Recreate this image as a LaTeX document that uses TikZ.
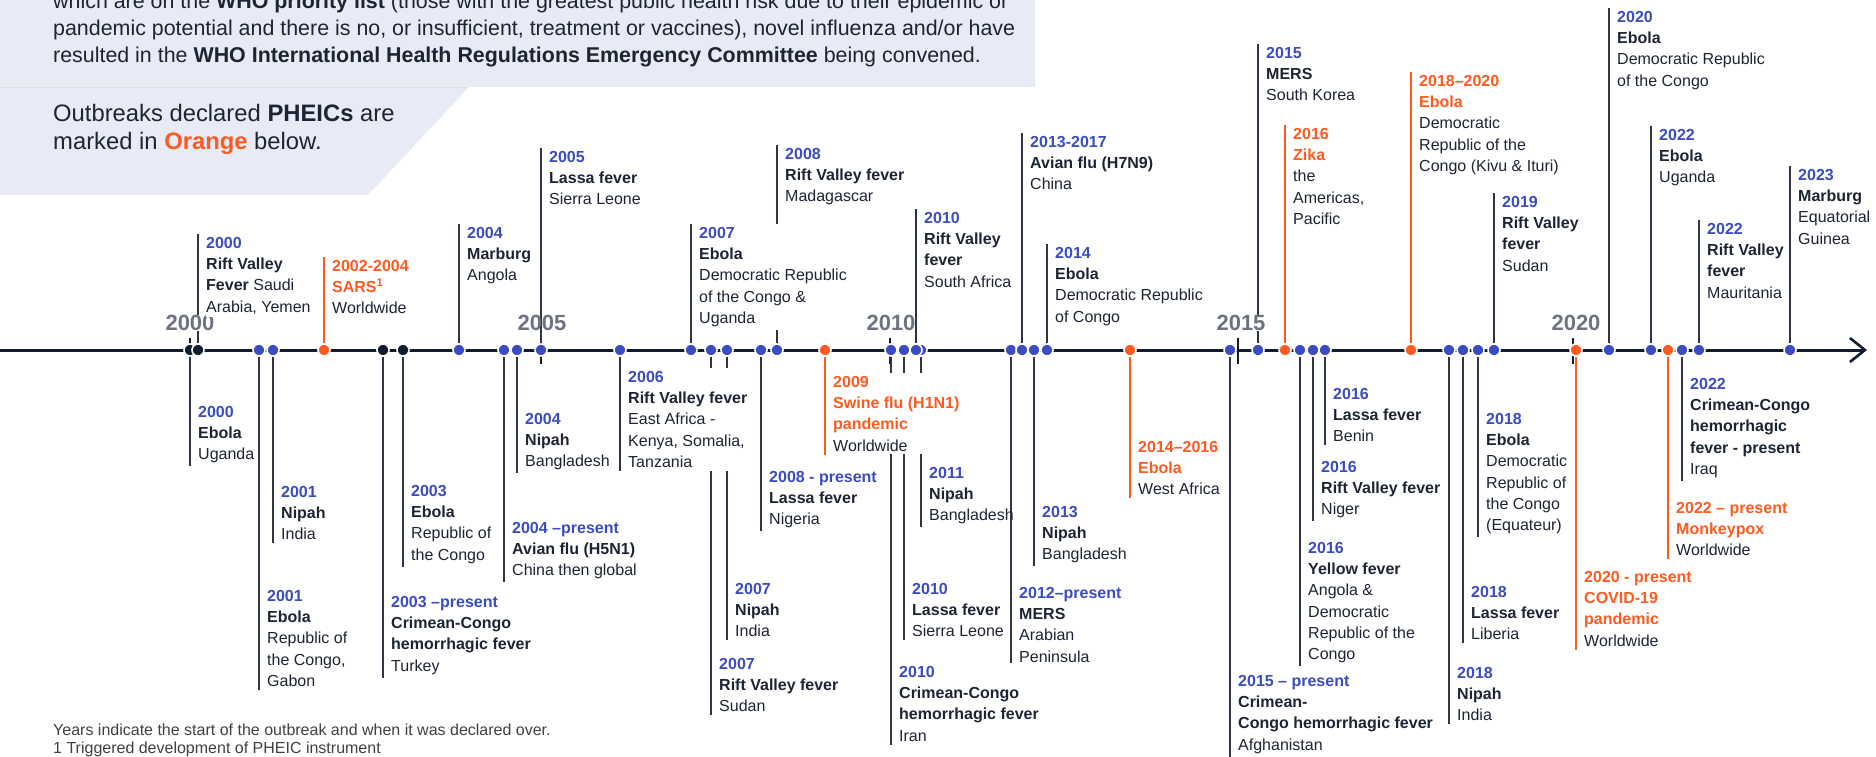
\documentclass[tikz,border=0pt]{standalone}
\usepackage{fontspec}
\setmainfont{Liberation Sans}
\usetikzlibrary{arrows.meta,positioning,calc}
\pgfdeclarelayer{background}
\pgfsetlayers{background,main}
\definecolor{txtnavy}{HTML}{1D2433}
\definecolor{evblue}{HTML}{3B4CC0}
\definecolor{evorange}{HTML}{FF5A1F}
\definecolor{linegray}{HTML}{2E3646}
\definecolor{dotnavy}{HTML}{121C30}
\definecolor{yeargray}{HTML}{6D7380}
\definecolor{lavender}{HTML}{E8EAF6}

\begin{document}
\begin{tikzpicture}[x=1pt,y=-1pt,
    every node/.style={text=txtnavy},
    lbl/.style={anchor=north west, xshift=8pt, inner xsep=0pt, inner ysep=3pt,
      fill=white, align=left, font=\fontsize{16}{21.3}\selectfont},
    nofill/.style={fill=none},
    evdot/.style={circle, fill=evblue, draw=white, line width=1.6pt,
      minimum size=12pt, inner sep=0pt},
    navydot/.style={evdot, fill=dotnavy},
    pheicdot/.style={evdot, fill=evorange},
    conn/.style={draw=linegray, line width=1.8pt},
    pheicconn/.style={conn, draw=evorange},
    yearlbl/.style={font=\fontsize{22}{22}\selectfont\bfseries, text=yeargray, inner sep=0pt},
    masked/.style={fill=white, inner xsep=1pt},
    yeartick/.style={draw=dotnavy, line width=2.6pt},
    axis/.style={draw=dotnavy, line width=3pt,
      -{Straight Barb[length=15pt,width=24pt,line width=2.6pt]}}]

  \useasboundingbox (0,0) rectangle (1876,757);

  % header panels
  \fill[lavender] (0,-5) rectangle (1035,87);
  \fill[lavender] (0,88) -- (468,88) -- (368,195) -- (0,195) -- cycle;
  \draw[draw=black!12, line width=0.8pt] (0,87.5) -- (468,87.5);

  \node[anchor=north west, inner sep=0pt, align=left,
        font=\fontsize{21.4}{27}\selectfont] (intro) at (53,-7.5)
    {which are on the \textbf{WHO priority list} (those with the greatest public health risk due to their epidemic or\\
     pandemic potential and there is no, or insufficient, treatment or vaccines), novel influenza and/or have\\
     resulted in the \textbf{WHO International Health Regulations Emergency Committee} being convened.};
  \node[anchor=north west, inner sep=0pt, align=left,
        font=\fontsize{23.8}{28}\selectfont] (pheic) at (53,104.5)
    {Outbreaks declared \textbf{PHEICs} are\\
     marked in \textcolor{evorange}{\textbf{Orange}} below.};
  \node[anchor=north west, inner sep=0pt, align=left, text=black!75,
        font=\fontsize{16}{18}\selectfont] (notes) at (53,724)
    {Years indicate the start of the outbreak and when it was declared over.\\
     1 Triggered development of PHEIC instrument};

  % axis
  \coordinate (start) at (0,350);
  \coordinate (end) at (1867,350);

  % year marks
  \node[yearlbl, masked] (y2000) at (190,323) {2000};
  \node[yearlbl] (y2005) at (542,323) {2005};
  \node[yearlbl] (y2010) at (891,323) {2010};
  \node[yearlbl, masked] (y2015) at (1241,323) {2015};
  \node[yearlbl] (y2020) at (1576,323) {2020};

  % dots
  \node[navydot] (dEbola00) at (190,350) {};
  \node[navydot] (dRvf00) at (198,350) {};
  \node[evdot] (dEbola01) at (259,350) {};
  \node[evdot] (dNipah01) at (273,350) {};
  \node[pheicdot] (dSars02) at (324,350) {};
  \node[navydot] (dCchf03) at (383,350) {};
  \node[navydot] (dEbola03) at (403,350) {};
  \node[evdot] (dMarburg04) at (459,350) {};
  \node[evdot] (dAvian04) at (504,350) {};
  \node[evdot] (dNipah04) at (517,350) {};
  \node[evdot] (dLassa05) at (541,350) {};
  \node[evdot] (dRvf06) at (620,350) {};
  \node[evdot] (dEbola07) at (691,350) {};
  \node[evdot] (dRvf07) at (711,350) {};
  \node[evdot] (dNipah07) at (727,350) {};
  \node[evdot] (dLassa08) at (761,350) {};
  \node[evdot] (dRvf08) at (777,350) {};
  \node[pheicdot] (dSwine09) at (825,350) {};
  \node[evdot] (dCchf10) at (891,350) {};
  \node[evdot] (dLassa10) at (904,350) {};
  \node[evdot] (dNipah11) at (921,350) {};
  \node[evdot] (dRvf10) at (916,350) {};
  \node[evdot] (dMers12) at (1011,350) {};
  \node[evdot] (dAvian13) at (1022,350) {};
  \node[evdot] (dNipah13) at (1034,350) {};
  \node[evdot] (dEbolaDrc14) at (1047,350) {};
  \node[pheicdot] (dEbola14) at (1130,350) {};
  \node[evdot] (dCchf15) at (1230,350) {};
  \node[evdot] (dMers15) at (1258,350) {};
  \node[pheicdot] (dZika16) at (1285,350) {};
  \node[evdot] (dYellow16) at (1300,350) {};
  \node[evdot] (dRvf16) at (1313,350) {};
  \node[evdot] (dLassa16) at (1325,350) {};
  \node[pheicdot] (dEbolaKivu18) at (1411,350) {};
  \node[evdot] (dNipah18) at (1449,350) {};
  \node[evdot] (dLassa18) at (1463,350) {};
  \node[evdot] (dEbola18) at (1478,350) {};
  \node[evdot] (dRvf19) at (1494,350) {};
  \node[pheicdot] (dCovid20) at (1576,350) {};
  \node[evdot] (dEbola20) at (1609,350) {};
  \node[evdot] (dEbola22) at (1651,350) {};
  \node[pheicdot] (dMpox22) at (1668,350) {};
  \node[evdot] (dCchf22) at (1682,350) {};
  \node[evdot] (dRvf22) at (1699,350) {};
  \node[evdot] (dMarburg23) at (1790,350) {};

  % labels above the axis
  \node[lbl] (lRvf00) at (dRvf00 |- 0,234)
    {\textcolor{evblue}{\textbf{2000}}\\\textbf{Rift Valley}\\\textbf{Fever} Saudi\\Arabia, Yemen};
  \node[lbl] (lSars02) at (dSars02 |- 0,257)
    {\textcolor{evorange}{\textbf{2002-2004}}\\\textcolor{evorange}{\textbf{SARS\textsuperscript{1}}}\\Worldwide};
  \node[lbl] (lMarburg04) at (dMarburg04 |- 0,224)
    {\textcolor{evblue}{\textbf{2004}}\\\textbf{Marburg}\\Angola};
  \node[lbl] (lLassa05) at (dLassa05 |- 0,148)
    {\textcolor{evblue}{\textbf{2005}}\\\textbf{Lassa fever}\\Sierra Leone};
  \node[lbl] (lEbola07) at (dEbola07 |- 0,224)
    {\textcolor{evblue}{\textbf{2007}}\\\textbf{Ebola}\\Democratic Republic\\of the Congo \&\\Uganda};
  \node[lbl] (lRvf08) at (dRvf08 |- 0,145)
    {\textcolor{evblue}{\textbf{2008}}\\\textbf{Rift Valley fever}\\Madagascar};
  \node[lbl] (lRvf10) at (dRvf10 |- 0,209)
    {\textcolor{evblue}{\textbf{2010}}\\\textbf{Rift Valley}\\\textbf{fever}\\South Africa};
  \node[lbl] (lAvian13) at (dAvian13 |- 0,133)
    {\textcolor{evblue}{\textbf{2013-2017}}\\\textbf{Avian flu (H7N9)}\\China};
  \node[lbl] (lEbolaDrc14) at (dEbolaDrc14 |- 0,244)
    {\textcolor{evblue}{\textbf{2014}}\\\textbf{Ebola}\\Democratic Republic\\of Congo};
  \node[lbl] (lMers15) at (dMers15 |- 0,44)
    {\textcolor{evblue}{\textbf{2015}}\\\textbf{MERS}\\South Korea};
  \node[lbl] (lZika16) at (dZika16 |- 0,125)
    {\textcolor{evorange}{\textbf{2016}}\\\textcolor{evorange}{\textbf{Zika}}\\the\\Americas,\\Pacific};
  \node[lbl] (lEbolaKivu18) at (dEbolaKivu18 |- 0,72)
    {\textcolor{evorange}{\textbf{2018–2020}}\\\textcolor{evorange}{\textbf{Ebola}}\\Democratic\\Republic of the\\Congo (Kivu \& Ituri)};
  \node[lbl] (lRvf19) at (dRvf19 |- 0,193)
    {\textcolor{evblue}{\textbf{2019}}\\\textbf{Rift Valley}\\\textbf{fever}\\Sudan};
  \node[lbl] (lEbola20) at (dEbola20 |- 0,8)
    {\textcolor{evblue}{\textbf{2020}}\\\textbf{Ebola}\\Democratic Republic\\of the Congo};
  \node[lbl] (lEbola22) at (dEbola22 |- 0,126)
    {\textcolor{evblue}{\textbf{2022}}\\\textbf{Ebola}\\Uganda};
  \node[lbl] (lRvf22) at (dRvf22 |- 0,220)
    {\textcolor{evblue}{\textbf{2022}}\\\textbf{Rift Valley}\\\textbf{fever}\\Mauritania};
  \node[lbl] (lMarburg23) at (dMarburg23 |- 0,166)
    {\textcolor{evblue}{\textbf{2023}}\\\textbf{Marburg}\\Equatorial\\Guinea};

  % labels below the axis
  \node[lbl] (lEbola00) at (dEbola00 |- 0,403)
    {\textcolor{evblue}{\textbf{2000}}\\\textbf{Ebola}\\Uganda};
  \node[lbl] (lEbola01) at (dEbola01 |- 0,587)
    {\textcolor{evblue}{\textbf{2001}}\\\textbf{Ebola}\\Republic of\\the Congo,\\Gabon};
  \node[lbl] (lNipah01) at (dNipah01 |- 0,483)
    {\textcolor{evblue}{\textbf{2001}}\\\textbf{Nipah}\\India};
  \node[lbl] (lCchf03) at (dCchf03 |- 0,593)
    {\textcolor{evblue}{\textbf{2003 –present}}\\\textbf{Crimean-Congo}\\\textbf{hemorrhagic fever}\\Turkey};
  \node[lbl] (lEbola03) at (dEbola03 |- 0,482)
    {\textcolor{evblue}{\textbf{2003}}\\\textbf{Ebola}\\Republic of\\the Congo};
  \node[lbl] (lAvian04) at (dAvian04 |- 0,519)
    {\textcolor{evblue}{\textbf{2004 –present}}\\\textbf{Avian flu (H5N1)}\\China then global};
  \node[lbl] (lNipah04) at (dNipah04 |- 0,410)
    {\textcolor{evblue}{\textbf{2004}}\\\textbf{Nipah}\\Bangladesh};
  \node[lbl] (lRvf06) at (dRvf06 |- 0,368)
    {\textcolor{evblue}{\textbf{2006}}\\\textbf{Rift Valley fever}\\East Africa -\\Kenya, Somalia,\\Tanzania};
  \node[lbl] (lRvf07) at (dRvf07 |- 0,655)
    {\textcolor{evblue}{\textbf{2007}}\\\textbf{Rift Valley fever}\\Sudan};
  \node[lbl] (lNipah07) at (dNipah07 |- 0,580)
    {\textcolor{evblue}{\textbf{2007}}\\\textbf{Nipah}\\India};
  \node[lbl] (lLassa08) at (dLassa08 |- 0,468)
    {\textcolor{evblue}{\textbf{2008 - present}}\\\textbf{Lassa fever}\\Nigeria};
  \node[lbl] (lSwine09) at (dSwine09 |- 0,373)
    {\textcolor{evorange}{\textbf{2009}}\\\textcolor{evorange}{\textbf{Swine flu (H1N1)}}\\\textcolor{evorange}{\textbf{pandemic}}\\Worldwide};
  \node[lbl] (lCchf10) at (dCchf10 |- 0,663)
    {\textcolor{evblue}{\textbf{2010}}\\\textbf{Crimean-Congo}\\\textbf{hemorrhagic fever}\\Iran};
  \node[lbl] (lLassa10) at (dLassa10 |- 0,580)
    {\textcolor{evblue}{\textbf{2010}}\\\textbf{Lassa fever}\\Sierra Leone};
  \node[lbl, nofill] (lNipah11) at (dNipah11 |- 0,464)
    {\textcolor{evblue}{\textbf{2011}}\\\textbf{Nipah}\\Bangladesh};
  \node[lbl] (lMers12) at (dMers12 |- 0,584)
    {\textcolor{evblue}{\textbf{2012–present}}\\\textbf{MERS}\\Arabian\\Peninsula};
  \node[lbl] (lNipah13) at (dNipah13 |- 0,503)
    {\textcolor{evblue}{\textbf{2013}}\\\textbf{Nipah}\\Bangladesh};
  \node[lbl] (lEbola14) at (dEbola14 |- 0,438)
    {\textcolor{evorange}{\textbf{2014–2016}}\\\textcolor{evorange}{\textbf{Ebola}}\\West Africa};
  \node[lbl] (lCchf15) at (dCchf15 |- 0,672)
    {\textcolor{evblue}{\textbf{2015 – present}}\\\textbf{Crimean-}\\\textbf{Congo hemorrhagic fever}\\Afghanistan};
  \node[lbl] (lYellow16) at (dYellow16 |- 0,539)
    {\textcolor{evblue}{\textbf{2016}}\\\textbf{Yellow fever}\\Angola \&\\Democratic\\Republic of the\\Congo};
  \node[lbl] (lRvf16) at (dRvf16 |- 0,458)
    {\textcolor{evblue}{\textbf{2016}}\\\textbf{Rift Valley fever}\\Niger};
  \node[lbl] (lLassa16) at (dLassa16 |- 0,385)
    {\textcolor{evblue}{\textbf{2016}}\\\textbf{Lassa fever}\\Benin};
  \node[lbl] (lNipah18) at (dNipah18 |- 0,664)
    {\textcolor{evblue}{\textbf{2018}}\\\textbf{Nipah}\\India};
  \node[lbl] (lLassa18) at (dLassa18 |- 0,583)
    {\textcolor{evblue}{\textbf{2018}}\\\textbf{Lassa fever}\\Liberia};
  \node[lbl] (lEbola18) at (dEbola18 |- 0,410)
    {\textcolor{evblue}{\textbf{2018}}\\\textbf{Ebola}\\Democratic\\Republic of\\the Congo\\(Equateur)};
  \node[lbl] (lCovid20) at (dCovid20 |- 0,568)
    {\textcolor{evorange}{\textbf{2020 - present}}\\\textcolor{evorange}{\textbf{COVID-19}}\\\textcolor{evorange}{\textbf{pandemic}}\\Worldwide};
  \node[lbl] (lMpox22) at (dMpox22 |- 0,499)
    {\textcolor{evorange}{\textbf{2022 – present}}\\\textcolor{evorange}{\textbf{Monkeypox}}\\Worldwide};
  \node[lbl] (lCchf22) at (dCchf22 |- 0,375)
    {\textcolor{evblue}{\textbf{2022}}\\\textbf{Crimean-Congo}\\\textbf{hemorrhagic}\\\textbf{fever - present}\\Iraq};

  \begin{pgfonlayer}{background}
    \draw[axis] (start) -- (end);
    \draw[yeartick] (y2000 |- 0,338) -- (y2000 |- 0,364);
    \draw[yeartick] (dLassa05 |- 0,338) -- (dLassa05 |- 0,364);
    \draw[yeartick] (890,338) -- (890,364);
    \draw[yeartick] (1238,338) -- (1238,364);
    \draw[yeartick] (1573,338) -- (1573,364);

    \draw[conn] (dRvf00) -- (dRvf00 |- lRvf00.north);
    \draw[pheicconn] (dSars02) -- (dSars02 |- lSars02.north);
    \draw[conn] (dMarburg04) -- (dMarburg04 |- lMarburg04.north);
    \draw[conn] (dLassa05) -- (dLassa05 |- lLassa05.north);
    \draw[conn] (dEbola07) -- (dEbola07 |- lEbola07.north);
    \draw[conn] (dRvf08) -- (dRvf08 |- lRvf08.north);
    \draw[conn] (dRvf10) -- (dRvf10 |- lRvf10.north);
    \draw[conn] (dAvian13) -- (dAvian13 |- lAvian13.north);
    \draw[conn] (dEbolaDrc14) -- (dEbolaDrc14 |- lEbolaDrc14.north);
    \draw[conn] (dMers15) -- (dMers15 |- lMers15.north);
    \draw[pheicconn] (dZika16) -- (dZika16 |- lZika16.north);
    \draw[pheicconn] (dEbolaKivu18) -- (dEbolaKivu18 |- lEbolaKivu18.north);
    \draw[conn] (dRvf19) -- (dRvf19 |- lRvf19.north);
    \draw[conn] (dEbola20) -- (dEbola20 |- lEbola20.north);
    \draw[conn] (dEbola22) -- (dEbola22 |- lEbola22.north);
    \draw[conn] (dRvf22) -- (dRvf22 |- lRvf22.north);
    \draw[conn] (dMarburg23) -- (dMarburg23 |- lMarburg23.north);

    \draw[conn] (dEbola00) -- (dEbola00 |- lEbola00.south);
    \draw[conn] (dEbola01) -- (dEbola01 |- lEbola01.south);
    \draw[conn] (dNipah01) -- (dNipah01 |- lNipah01.south);
    \draw[conn] (dCchf03) -- (dCchf03 |- lCchf03.south);
    \draw[conn] (dEbola03) -- (dEbola03 |- lEbola03.south);
    \draw[conn] (dAvian04) -- (dAvian04 |- lAvian04.south);
    \draw[conn] (dNipah04) -- (dNipah04 |- lNipah04.south);
    \draw[conn] (dRvf06) -- (dRvf06 |- lRvf06.south);
    \draw[conn] (dRvf07) -- (dRvf07 |- lRvf07.south);
    \draw[conn] (dNipah07) -- (dNipah07 |- lNipah07.south);
    \draw[conn] (dLassa08) -- (dLassa08 |- lLassa08.south);
    \draw[pheicconn] (dSwine09) -- (dSwine09 |- lSwine09.south);
    \draw[conn] (dCchf10) -- (dCchf10 |- lCchf10.south);
    \draw[conn] (dLassa10) -- (dLassa10 |- lLassa10.south);
    \draw[conn] (dNipah11) -- (dNipah11 |- lNipah11.south);
    \draw[conn] (dMers12) -- (dMers12 |- lMers12.south);
    \draw[conn] (dNipah13) -- (dNipah13 |- lNipah13.south);
    \draw[pheicconn] (dEbola14) -- (dEbola14 |- lEbola14.south);
    \draw[conn] (dCchf15) -- (dCchf15 |- lCchf15.south);
    \draw[conn] (dYellow16) -- (dYellow16 |- lYellow16.south);
    \draw[conn] (dRvf16) -- (dRvf16 |- lRvf16.south);
    \draw[conn] (dLassa16) -- (dLassa16 |- lLassa16.south);
    \draw[conn] (dNipah18) -- (dNipah18 |- lNipah18.south);
    \draw[conn] (dLassa18) -- (dLassa18 |- lLassa18.south);
    \draw[conn] (dEbola18) -- (dEbola18 |- lEbola18.south);
    \draw[pheicconn] (dCovid20) -- (dCovid20 |- lCovid20.south);
    \draw[pheicconn] (dMpox22) -- (dMpox22 |- lMpox22.south);
    \draw[conn] (dCchf22) -- (dCchf22 |- lCchf22.south);
  \end{pgfonlayer}
\end{tikzpicture}
\end{document}
